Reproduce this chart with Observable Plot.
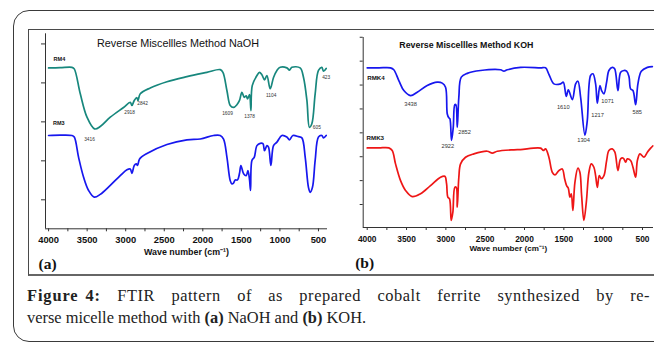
<!DOCTYPE html>
<html><head><meta charset="utf-8">
<script src="https://cdn.jsdelivr.net/npm/d3@7"></script>
<script src="https://cdn.jsdelivr.net/npm/@observablehq/plot@0.6"></script>
<style>
html,body{margin:0;padding:0;background:#fff;width:654px;height:345px;overflow:hidden;}
#outer{position:absolute;left:13px;top:10px;width:700px;height:330px;border:1.5px solid #3a3a3a;border-radius:16px;}
#inner{position:absolute;left:28px;top:29px;width:700px;height:244px;border:1.5px solid #4a4a4a;border-bottom:2px solid #666;}
#chartA{position:absolute;left:0;top:0;}
#chartB{position:absolute;left:345px;top:0;}
.cap{position:absolute;left:27px;font-family:"Liberation Serif","Times New Roman",serif;font-size:16.4px;color:#222;line-height:21.6px;}
#cap1{top:285px;width:623px;text-align:justify;text-align-last:justify;letter-spacing:0.55px;}
#cap1 b{display:inline-block;letter-spacing:0.9px;word-spacing:2px;}
#cap2{top:306.6px;white-space:nowrap;}
</style></head>
<body>
<div id="outer"></div>
<div id="inner"></div>
<div id="chartA"></div>
<div id="chartB"></div>
<div class="cap" id="cap1"><b>Figure 4:</b> FTIR pattern of as prepared cobalt ferrite synthesized by re-</div>
<div class="cap" id="cap2">verse micelle method with <b>(a)</b> NaOH and <b>(b)</b> KOH.</div>
<script>
// ---------- Panel (a): NaOH ----------
const titleA = "Reverse Miscellles Method NaOH";
const titleB = "Reverse Miscellles Method KOH";
const xLabel = "Wave number (cm\u207B\u00B9)";
const majorTicks = [4000, 3500, 3000, 2500, 2000, 1500, 1000, 500];
const minorTicks = [4000, 3750, 3500, 3250, 3000, 2750, 2500, 2250, 2000, 1750, 1500, 1250, 1000, 750, 500];
const yTicksA = [1, 2, 3, 4, 5];
const yTicksB = [1, 2, 3, 4, 5, 6, 7, 8];

const rm4W = [4000, 3850, 3697, 3667, 3589, 3502, 3404, 3330, 3200, 3028, 2941, 2919, 2889, 2854, 2841, 2811, 2682, 2465, 2206, 1947, 1774, 1739, 1687, 1644, 1602, 1558, 1524, 1493, 1463, 1437, 1420, 1394, 1376, 1359, 1298, 1265, 1234, 1200, 1169, 1126, 1083, 1039, 996, 910, 876, 845, 738, 694, 650, 617, 586, 543, 500, 456, 435, 400];
const rm4T = [4.385, 4.39, 4.40, 4.36, 3.72, 3.12, 2.82, 2.88, 3.12, 3.37, 3.50, 3.42, 3.55, 3.62, 3.55, 3.72, 3.87, 4.03, 4.16, 4.27, 4.34, 4.27, 3.80, 3.42, 3.37, 3.44, 3.55, 3.76, 3.63, 3.67, 3.59, 3.70, 3.29, 3.93, 4.19, 4.27, 4.21, 4.08, 4.19, 3.85, 4.14, 4.32, 4.40, 4.385, 4.33, 4.40, 4.385, 4.14, 3.55, 2.86, 2.95, 3.72, 4.32, 4.40, 4.30, 4.37];

const rm3W = [4000, 3850, 3697, 3667, 3611, 3546, 3481, 3408, 3330, 3200, 3071, 2984, 2941, 2919, 2889, 2863, 2846, 2820, 2724, 2465, 2206, 2033, 1861, 1774, 1731, 1687, 1644, 1622, 1602, 1580, 1550, 1524, 1506, 1471, 1437, 1415, 1394, 1381, 1363, 1333, 1298, 1255, 1220, 1200, 1169, 1148, 1117, 1083, 1039, 974, 910, 876, 832, 759, 715, 672, 630, 608, 578, 543, 500, 456, 435, 400];
const rm3T = [2.65, 2.66, 2.65, 2.61, 2.09, 1.58, 1.24, 1.07, 1.14, 1.37, 1.62, 1.77, 1.79, 1.68, 1.88, 1.92, 1.88, 2.05, 2.19, 2.42, 2.54, 2.56, 2.65, 2.65, 2.56, 2.09, 1.49, 1.41, 1.43, 1.51, 1.51, 1.68, 1.88, 1.67, 1.62, 1.75, 1.51, 1.24, 2.01, 2.09, 2.39, 2.45, 2.44, 2.26, 2.39, 2.35, 1.88, 2.39, 2.48, 2.65, 2.61, 2.54, 2.65, 2.62, 2.59, 2.09, 1.32, 1.19, 1.32, 2.01, 2.61, 2.65, 2.59, 2.65];

const seriesNamesA = ["RM4", "RM3"];
const seriesLabelWA = [3935, 3943];
const seriesLabelTA = [4.60, 2.97];

const peakTextA = ["3416", "2918", "2842", "1609", "1378", "1104", "605", "423"];
const peakWA = [3469, 2950, 2781, 1680, 1394, 1113, 521, 400];
const peakTA = [2.56, 3.23, 3.46, 3.21, 3.14, 3.69, 2.86, 4.14];

// ---------- Panel (b): KOH ----------
const rmk4W = [4000, 3850, 3704, 3662, 3598, 3534, 3449, 3364, 3237, 3110, 3046, 3004, 2982, 2962, 2949, 2928, 2906, 2886, 2873, 2855, 2835, 2804, 2728, 2559, 2305, 2262, 2219, 2050, 1796, 1732, 1690, 1626, 1541, 1507, 1469, 1443, 1392, 1350, 1321, 1287, 1232, 1202, 1160, 1130, 1096, 1074, 1041, 1020, 990, 956, 927, 884, 854, 812, 778, 736, 702, 672, 651, 621, 587, 558, 515, 438, 375];
const rmk4T = [6.72, 6.72, 6.72, 6.64, 6.19, 5.77, 5.56, 5.70, 5.98, 6.12, 6.08, 5.91, 4.79, 4.63, 4.59, 3.68, 4.23, 5.18, 5.18, 4.23, 5.49, 6.33, 6.49, 6.61, 6.64, 6.58, 6.64, 6.74, 6.72, 6.72, 6.45, 6.05, 6.05, 6.12, 5.52, 5.80, 5.39, 6.05, 6.16, 5.50, 3.90, 4.51, 6.40, 6.47, 6.05, 5.24, 5.98, 5.77, 5.63, 6.12, 6.61, 6.74, 6.68, 5.77, 6.54, 6.61, 6.58, 6.36, 5.84, 5.77, 5.18, 6.05, 6.58, 6.74, 6.77];

const rmk3W = [4000, 3850, 3725, 3682, 3640, 3576, 3513, 3428, 3322, 3195, 3068, 3013, 2991, 2975, 2953, 2932, 2911, 2886, 2868, 2855, 2835, 2813, 2750, 2644, 2474, 2410, 2346, 2135, 2050, 1796, 1761, 1732, 1690, 1647, 1614, 1563, 1520, 1490, 1465, 1443, 1423, 1405, 1385, 1359, 1321, 1296, 1274, 1245, 1214, 1181, 1151, 1118, 1096, 1074, 1049, 1023, 990, 956, 927, 884, 851, 812, 778, 744, 714, 693, 651, 621, 587, 565, 532, 481, 438, 396, 370];
const rmk3T = [3.37, 3.37, 3.37, 3.26, 2.70, 2.00, 1.59, 1.33, 1.45, 1.79, 2.14, 2.18, 1.87, 1.31, 1.24, 0.33, 0.68, 1.72, 1.72, 0.89, 2.14, 2.70, 2.98, 3.12, 3.23, 3.15, 3.23, 3.29, 3.30, 3.36, 3.26, 3.33, 2.98, 2.35, 2.24, 2.42, 2.49, 2.08, 1.79, 1.68, 1.31, 1.45, 0.75, 1.93, 2.52, 2.35, 1.38, 0.33, 1.10, 2.35, 2.70, 2.56, 2.21, 1.72, 2.21, 2.08, 2.21, 2.84, 3.26, 3.33, 3.19, 2.42, 2.91, 2.94, 2.77, 2.91, 2.84, 2.56, 2.14, 2.84, 3.12, 2.98, 3.19, 3.36, 3.45];

const seriesNamesB = ["RMK4", "RMK3"];
const seriesLabelWB = [4000, 4009];
const seriesLabelTB = [6.30, 3.79];

const peakTextB = ["3438", "2922", "2852", "1610", "1304", "1217", "1071", "585"];
const peakWB = [3449, 2975, 2762, 1507, 1249, 1071, 943, 566];
const peakTB = [5.21, 3.43, 4.03, 5.07, 3.68, 4.72, 5.31, 4.85];

// ---------- helpers ----------
const zip = (w, t) => w.map((x, i) => ({w: x, t: t[i]}));
const labels = (txt, w, t) => txt.map((s, i) => ({s, w: w[i], t: t[i]}));
const FONT = "Liberation Sans, Arial, Helvetica, sans-serif";

function panel(o) {
  return Plot.plot({
    width: o.width, height: 280,
    marginLeft: o.ml, marginRight: o.mr, marginTop: o.mt, marginBottom: 280 - o.bottom,
    style: {fontFamily: FONT, background: "transparent", overflow: "visible", color: "#111"},
    x: {domain: o.xDomain},
    y: {domain: o.yDomain},
    marks: [
      Plot.ruleX([o.xDomain[0]], {stroke: "#333", strokeWidth: 1}),
      Plot.ruleY([o.yDomain[0]], {stroke: "#333", strokeWidth: 1}),
      Plot.axisY({ticks: o.yTicks, tickSize: o.yTickSize, tickFormat: () => "", label: null, stroke: "#333"}),
      Plot.axisX({ticks: minorTicks, tickSize: 3, tickFormat: () => "", label: null, stroke: "#333"}),
      Plot.axisX({ticks: majorTicks, tickSize: 0, tickPadding: o.tickPad, tickFormat: d => String(d),
        label: null, fontSize: o.tickFont, fontWeight: "bold", fill: "#111"}),
      ...o.series.map(s => Plot.line(s.data, {x: "w", y: "t", stroke: s.color, strokeWidth: 1.7, curve: "catmull-rom"})),
      Plot.text(o.seriesLabels, {x: "w", y: "t", text: "s", textAnchor: "start", fontWeight: "bold", fontSize: o.seriesFont, fill: "#111"}),
      Plot.text(o.peaks, {x: "w", y: "t", text: "s", fontSize: o.peakFont, fill: "#333"}),
      Plot.text([o.title], {frameAnchor: "top", dx: o.titleDx, dy: o.titleDy, lineAnchor: "middle",
        fontSize: o.titleFont, fontWeight: o.titleWeight, fill: "#111"}),
      Plot.text([xLabel], {frameAnchor: "bottom", dy: o.xLabelDy, lineAnchor: "middle",
        fontSize: o.xLabelFont, fontWeight: "bold", fill: "#111"}),
      Plot.text([o.letter], {frameAnchor: "bottom-left", dx: o.letterDx, dy: 35.5, textAnchor: "start", lineAnchor: "middle",
        fontFamily: "Liberation Serif, Times New Roman, serif", fontWeight: "bold", fontSize: 15.5, fill: "#111"})
    ]
  });
}

const plotA = panel({
  width: 345, ml: 45, mr: 18, mt: 33.3, bottom: 228.3,
  xDomain: [4040, 383], yDomain: [0.256, 5.26], yTicks: yTicksA, yTickSize: 4,
  tickPad: 7.3, tickFont: 9.4,
  series: [{data: zip(rm4W, rm4T), color: "#17877d"}, {data: zip(rm3W, rm3T), color: "#1717ee"}],
  seriesLabels: labels(seriesNamesA, seriesLabelWA, seriesLabelTA), seriesFont: 5.5,
  peaks: labels(peakTextA, peakWA, peakTA), peakFont: 4.8,
  title: titleA, titleDx: -8.5, titleDy: 9.7, titleFont: 10.8, titleWeight: "normal",
  xLabelDy: 23.4, xLabelFont: 8.9, letter: "(a)", letterDx: -7
});
document.getElementById("chartA").appendChild(plotA);

const plotB = panel({
  width: 309, ml: 17.7, mr: 1, mt: 37, bottom: 227,
  xDomain: [4051, 360], yDomain: [0.038, 7.99], yTicks: yTicksB, yTickSize: 3,
  tickPad: 9, tickFont: 8.4,
  series: [{data: zip(rmk4W, rmk4T), color: "#1717ee"}, {data: zip(rmk3W, rmk3T), color: "#ee1616"}],
  seriesLabels: labels(seriesNamesB, seriesLabelWB, seriesLabelTB), seriesFont: 6.2,
  peaks: labels(peakTextB, peakWB, peakTB), peakFont: 5.7,
  title: titleB, titleDx: -42, titleDy: 8, titleFont: 8.8, titleWeight: "bold",
  xLabelDy: 21.3, xLabelFont: 8.1, letter: "(b)", letterDx: -8
});
document.getElementById("chartB").appendChild(plotB);
</script>
</body></html>
